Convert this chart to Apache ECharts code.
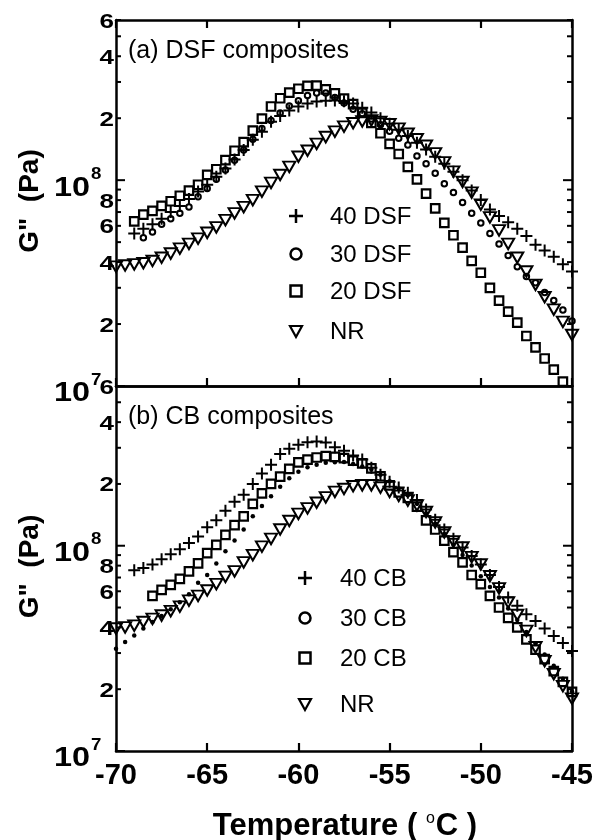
<!DOCTYPE html>
<html><head><meta charset="utf-8">
<script src="https://cdn.jsdelivr.net/npm/echarts@6/dist/echarts.min.js"></script>
<style>html,body{margin:0;padding:0;background:#fff}#c{width:596px;height:840px}</style>
</head><body><div id="c"></div>
<script>
// Temperature grid (°C)
const temps = [-70,-69.5,-69,-68.5,-68,-67.5,-67,-66.5,-66,-65.5,-65,-64.5,-64,-63.5,-63,-62.5,-62,-61.5,-61,-60.5,-60,-59.5,-59,-58.5,-58,-57.5,-57,-56.5,-56,-55.5,-55,-54.5,-54,-53.5,-53,-52.5,-52,-51.5,-51,-50.5,-50,-49.5,-49,-48.5,-48,-47.5,-47,-46.5,-46,-45.5,-45];

// (a) DSF composites, G'' in MPa
const dsf40 = [null,null,55,58,61,65,70,75,81,88,95,104,114,126,140,157,172,192,205,218,228,236,241,243,244,242,236,225,213,200,188,176,164,152,141,130,120,110,100,89,80,72,67,62.5,58,53.5,48.5,45.5,42.5,39,36];
const dsf30 = [null,null,null,52.5,56,61,65,69,74,83,91,101,112,125,140,158,178,195,212,229,243,258,265,265,252,237,221,210,198,186,173,160,148,131,120,108,96,87,78,69,62,55,49,43,38,34,31.7,28.5,26,23.4,20.7];
const dsf20 = [null,null,63,68,71,75,79,84,89,95,106,113,125,139,153,174,199,228,250,266,278,287,288,276,264,249,234,212,190,169,150,134,116,101,86,73,62,54,47,40.5,35.5,30,26,23,20.3,17.5,15.4,13.6,12,10.5,null];
const nrTop = [38,38.5,39,39.5,40.5,42,44,46.5,49,52,55.5,59,64,69,74,80,88,97,106,116,130,139,150,162,172,182,189,193,195,192,187,178,168,158,147,135,122,110,98,87,76,66,57,49,42,36,31,27,23.5,20.5,17.7];

// (b) CB composites, G'' in MPa
const cb40 = [null,null,76,78,81,86,91,96,103,111,123,133,148,164,177,200,225,248,280,297,310,319,322,318,302,290,275,263,240,222,205,192,181,167,150,134,120,108,98,89,81,72,63,56,51,46.4,43,39.5,36.3,33.6,30.7];
const cb30 = [31.5,34,36.5,39.5,42.5,45.5,49,53,58,66,72,82,94,106,120,139,156,174,194,213,229,241,248,254,255,256,250,243,235,222,206,190,176,160,144,128,114,101,90,80,71,63,56,49.5,43.5,38,33.5,29.5,26,22.5,19.5];
const cb20 = [null,null,null,null,57,61,64.5,69,75,82,92,101,113,126,139,160,180,200,217,237,255,263,269,273,271,267,260,252,238,218,197,182,171,155,133,120,106,93,83,72,65,57,50,44.5,40,35,31.2,28,24.5,21.7,19.4];
const nrBot = [39.5,40,40.8,42.5,44,45.7,48,50.5,54,57,60.5,65,70.5,75,83,90,99,108,120,132,143,152,162,172,183,189,195,197,197,192,183,175,166,157,146,130,116,105,98,88,81,71,62,53,46,38.5,32,27.4,23.7,20.7,18];

// Axis ticks / labels
const yTicks = [1e7,2e7,3e7,4e7,5e7,6e7,7e7,8e7,9e7,1e8,2e8,3e8,4e8,5e8,6e8];
const yMajor = [1e7,1e8];
const yDigitVals = [2e7,4e7,6e7,8e7,2e8,4e8,6e8];
const yDigitLabels = ['2','4','6','8','2','4','6'];
const yPowVals = [1e7,1e8];
const yPowExps = ['7','8'];
const panelTitles = ['(a) DSF composites','(b) CB composites'];
const legendTop = ['40 DSF','30 DSF','20 DSF','NR'];
const legendBot = ['40 CB','30 CB','20 CB','NR'];

const MPA = 1e6;
function pts(vals){const o=[];for(let i=0;i<temps.length;i++){if(vals[i]!=null)o.push([temps[i],vals[i]*MPA]);}return o;}

const FF = '"Liberation Sans", Arial, Helvetica, sans-serif';
const PLUS = 'path://M5,0L5,10M0,5L10,5';
const TRI = 'path://M0,0L10,0L5,9Z';

const chart = echarts.init(document.getElementById('c'), null, {renderer:'canvas'});

const axLine = {show:true, onZero:false, lineStyle:{color:'#000', width:2.5}};
function xAx(grid, pos, ticks, labels){
  return {type:'value', gridIndex:grid, position:pos, min:-70, max:-45, interval:5,
    axisLine:axLine, splitLine:{show:false},
    axisTick:{show:ticks, inside:true, length:8, lineStyle:{color:'#000', width:2.2}},
    axisLabel:{show:labels, color:'#000', fontFamily:FF, fontWeight:'bold', fontSize:29, margin:10}};
}
function yAx(grid, pos){
  return {type:'log', logBase:10, gridIndex:grid, position:pos, min:1e7, max:6e8,
    axisLine:axLine, splitLine:{show:false}, axisTick:{show:false}, axisLabel:{show:false}};
}

function mk(name, vals, xi, yi, kind){
  const s = {name, type:'scatter', xAxisIndex:xi, yAxisIndex:yi, data:pts(vals), clip:false, silent:true, animation:false};
  const base = {opacity:1, color:'rgba(0,0,0,0)', borderColor:'#000'};
  if(kind==='plus'){ s.symbol=PLUS; s.symbolSize=12; s.itemStyle=Object.assign(base,{borderWidth:2}); }
  else if(kind==='ring'){ s.symbol='circle'; s.symbolSize=5.5; s.itemStyle=Object.assign(base,{borderWidth:2}); }
  else if(kind==='dot'){ s.symbol='circle'; s.symbolSize=4.5; s.itemStyle={opacity:1, color:'#000', borderWidth:0}; }
  else if(kind==='sq'){ s.symbol='rect'; s.symbolSize=8.5; s.itemStyle=Object.assign(base,{borderWidth:2.2}); }
  else if(kind==='tri'){ s.symbol=TRI; s.symbolSize=[12,10.5]; s.itemStyle=Object.assign(base,{borderWidth:2}); }
  return s;
}

chart.setOption({
  animation:false,
  backgroundColor:'#fff',
  grid:[{left:116, top:20, width:456, height:366},{left:116, top:386, width:456, height:365}],
  xAxis:[xAx(0,'bottom',true,false), xAx(0,'top',true,false), xAx(1,'bottom',true,true), xAx(1,'top',false,false)],
  yAxis:[yAx(0,'left'), yAx(0,'right'), yAx(1,'left'), yAx(1,'right')],
  series:[
    mk('20 DSF', dsf20, 0, 0, 'sq'),
    mk('NR a', nrTop, 0, 0, 'tri'),
    mk('30 DSF', dsf30, 0, 0, 'ring'),
    mk('40 DSF', dsf40, 0, 0, 'plus'),
    mk('20 CB', cb20, 2, 2, 'sq'),
    mk('NR b', nrBot, 2, 2, 'tri'),
    mk('30 CB', cb30, 2, 2, 'dot'),
    mk('40 CB', cb40, 2, 2, 'plus')
  ]
});

const g = [];
const L = 116, R = 572;
function txt(text, x, y, font, align, va, sx){
  return {type:'text', silent:true, x, y, scaleX:sx||1,
    style:{text, x:0, y:0, font, fill:'#000', align, verticalAlign:va, textAlign:align, textVerticalAlign:va}};
}
for(let p=0;p<2;p++){
  const yi = p*2;
  yTicks.forEach(v=>{
    const y = chart.convertToPixel({yAxisIndex:yi}, v);
    const len = yMajor.includes(v) ? 9 : 5;
    g.push({type:'line', silent:true, shape:{x1:L, y1:y, x2:L+len, y2:y}, style:{stroke:'#000', lineWidth:2}});
    g.push({type:'line', silent:true, shape:{x1:R-len, y1:y, x2:R, y2:y}, style:{stroke:'#000', lineWidth:2}});
  });
  yDigitVals.forEach((v,i)=>{
    const y = chart.convertToPixel({yAxisIndex:yi}, v);
    g.push(txt(yDigitLabels[i], 114, y+2, 'bold 20px '+FF, 'right', 'middle', 1.3));
  });
  yPowVals.forEach((v,i)=>{
    const y = chart.convertToPixel({yAxisIndex:yi}, v);
    g.push(txt('10', 90, y+8, 'bold 27px '+FF, 'right', 'middle', 1.2));
    g.push(txt(yPowExps[i], 91, y-6, 'bold 17px '+FF, 'left', 'middle', 1.1));
  });
  const top = p===0 ? 20 : 386, bot = p===0 ? 386 : 751;
  g.push({type:'text', silent:true, x:30, y:(top+bot)/2 - 2, rotation:Math.PI/2,
    style:{text:'G"  (Pa)', x:0, y:0, font:'bold 28px '+FF, fill:'#000', align:'center', verticalAlign:'middle', textAlign:'center', textVerticalAlign:'middle'}});
  g.push(txt(panelTitles[p], 128, top+31, '25px '+FF, 'left', 'middle'));
}

// legends
function legendBlock(names, mx, tx, ys){
  const s = {stroke:'#000', lineWidth:2.5, fill:'none'};
  g.push({type:'line', silent:true, shape:{x1:mx-7, y1:ys[0], x2:mx+7, y2:ys[0]}, style:s});
  g.push({type:'line', silent:true, shape:{x1:mx, y1:ys[0]-7, x2:mx, y2:ys[0]+7}, style:s});
  g.push({type:'circle', silent:true, shape:{cx:mx, cy:ys[1], r:5.5}, style:s});
  g.push({type:'rect', silent:true, shape:{x:mx-5.5, y:ys[2]-5.5, width:11, height:11}, style:s});
  g.push({type:'polygon', silent:true, shape:{points:[[mx-6,ys[3]-5],[mx+6,ys[3]-5],[mx,ys[3]+6]]}, style:{stroke:'#000', lineWidth:2.2, fill:'none'}});
  names.forEach((n,i)=>g.push(txt(n, tx, ys[i]+1, '24px '+FF, 'left', 'middle')));
}
legendBlock(legendTop, 296, 330, [216,254,291,331]);
legendBlock(legendBot, 305, 340, [578,618,658,704]);

// x axis title
g.push({type:'text', silent:true, style:{text:'Temperature ( {s|o}C )', x:345, y:826, font:'bold 31px '+FF, fill:'#000', align:'center', verticalAlign:'middle', textAlign:'center', textVerticalAlign:'middle',
  rich:{s:{fontSize:16, fontWeight:'normal', fontFamily:FF, fill:'#000', padding:[0,1,14,0]}}}});

chart.setOption({graphic:g});
</script>
</body></html>
